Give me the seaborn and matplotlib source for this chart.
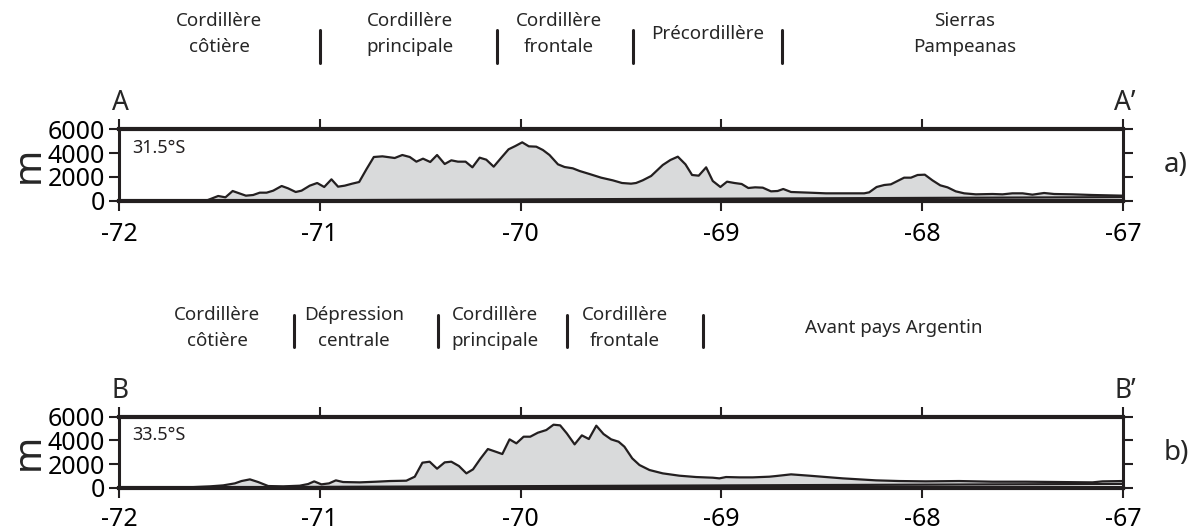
import numpy as np
import matplotlib.pyplot as plt
import matplotlib.transforms as mtransforms
import seaborn as sns

# Profile A-A' (31.5°S): longitude, elevation (m)
lon_a = [-72.0, -71.57, -71.506, -71.47, -71.434, -71.368, -71.332, -71.299, -71.265, -71.232,
         -71.19, -71.158, -71.12, -71.091, -71.05, -71.013, -70.978, -70.942, -70.909, -70.876,
         -70.839, -70.804, -70.768, -70.731, -70.688, -70.627, -70.589, -70.552, -70.519, -70.486,
         -70.45, -70.416, -70.378, -70.345, -70.312, -70.274, -70.24, -70.204, -70.171, -70.134,
         -70.096, -70.06, -70.026, -69.992, -69.959, -69.922, -69.889, -69.856, -69.814, -69.781,
         -69.74, -69.706, -69.657, -69.599, -69.541, -69.495, -69.45, -69.425, -69.392, -69.35,
         -69.292, -69.254, -69.217, -69.179, -69.146, -69.113, -69.076, -69.043, -69.005, -68.972,
         -68.935, -68.899, -68.866, -68.832, -68.794, -68.753, -68.72, -68.692, -68.653, -68.562,
         -68.479, -68.289, -68.264, -68.227, -68.189, -68.156, -68.123, -68.09, -68.056, -68.023,
         -67.987, -67.949, -67.91, -67.874, -67.833, -67.791, -67.733, -67.65, -67.6, -67.551,
         -67.5, -67.451, -67.393, -67.343, -67.252, -67.152, -67.0]
elev_a = [0, 0, 417, 305, 833, 444, 500, 694, 694, 861,
          1250, 1055, 750, 861, 1278, 1500, 1167, 1806, 1194, 1278,
          1444, 1583, 2639, 3667, 3722, 3583, 3833, 3667, 3278, 3528,
          3250, 3833, 3083, 3389, 3278, 3278, 2806, 3611, 3444, 2861,
          3611, 4306, 4583, 4889, 4556, 4528, 4250, 3833, 3056, 2833,
          2722, 2500, 2250, 1944, 1722, 1500, 1444, 1500, 1722, 2083,
          3000, 3417, 3694, 3056, 2167, 2111, 2806, 1667, 1167, 1611,
          1500, 1417, 1083, 1139, 1111, 805, 833, 1000, 750, 694,
          639, 639, 722, 1167, 1333, 1389, 1667, 1944, 1944, 2167,
          2194, 1722, 1305, 1139, 805, 639, 555, 583, 555, 639,
          639, 528, 667, 583, 555, 500, 444]

# Profile B-B' (33.5°S)
lon_b = [-72.0, -71.63, -71.547, -71.481, -71.423, -71.39, -71.348, -71.307, -71.257, -71.183,
         -71.1, -71.058, -71.028, -70.992, -70.954, -70.92, -70.884, -70.801, -70.718, -70.652,
         -70.569, -70.527, -70.489, -70.453, -70.416, -70.378, -70.345, -70.307, -70.27, -70.237,
         -70.2, -70.163, -70.124, -70.091, -70.055, -70.021, -69.985, -69.952, -69.914, -69.872,
         -69.836, -69.803, -69.77, -69.731, -69.695, -69.66, -69.623, -69.587, -69.549, -69.512,
         -69.483, -69.444, -69.408, -69.358, -69.292, -69.209, -69.126, -69.043, -69.01, -68.977,
         -68.91, -68.844, -68.761, -68.728, -68.653, -68.562, -68.396, -68.23, -68.114, -67.982,
         -67.816, -67.65, -67.484, -67.318, -67.152, -67.102, -67.0]
elev_b = [0, 50, 113, 197, 366, 563, 704, 479, 141, 113,
          169, 310, 535, 282, 366, 620, 479, 451, 507, 563,
          592, 930, 2113, 2197, 1606, 2141, 2197, 1831, 1211, 1549,
          2451, 3268, 3042, 2845, 4085, 3747, 4310, 4310, 4648, 4873,
          5324, 5268, 4592, 3662, 4423, 4113, 5240, 4535, 4085, 3887,
          3465, 2479, 1916, 1493, 1211, 1014, 901, 845, 789, 901,
          873, 873, 930, 986, 1127, 1014, 789, 620, 563, 535,
          563, 507, 507, 479, 451, 535, 563]

# lower reference line under each profile
base_lon = [-72.0, -67.0]
base_elev = [0, 320]

x_ticks = [-72, -71, -70, -69, -68, -67]
y_ticks = [0, 2000, 4000, 6000]

# section names and separator positions (longitude)
units_a = ["Cordillère\ncôtière", "Cordillère\nprincipale", "Cordillère\nfrontale",
           "Précordillère", "Sierras\nPampeanas"]
units_a_x = [-71.5, -70.55, -69.81, -69.07, -67.79]
seps_a = [-71.0, -70.12, -69.44, -68.70]

units_b = ["Cordillère\ncôtière", "Dépression\ncentrale", "Cordillère\nprincipale",
           "Cordillère\nfrontale", "Avant pays Argentin"]
units_b_x = [-71.51, -70.83, -70.13, -69.48, -68.14]
seps_b = [-71.13, -70.41, -69.77, -69.09]

sns.set_style("ticks")
plt.rcParams['font.family'] = ['Noto Sans', 'DejaVu Sans']
ink = "#231f20"
fill = "#d9dadb"

fig = plt.figure(figsize=(11.96, 5.32), dpi=100)
W, H = 1196, 532


def draw_panel(rect, lon, elev, lat_label, left, right, tag, units, units_x, seps,
               label_y, sep_y, xpad):
    ax = fig.add_axes(rect)
    base = np.interp(lon, base_lon, base_elev)
    ax.fill_between(lon, base, elev, color=fill, lw=0, zorder=1)
    sns.lineplot(x=lon, y=elev, ax=ax, color=ink, lw=1.6, zorder=3, estimator=None, sort=False)
    sns.lineplot(x=base_lon, y=base_elev, ax=ax, color=ink, lw=1.6, zorder=3)
    ax.set_xlim(-72, -67)
    ax.set_ylim(0, 6000)
    ax.set_xticks(x_ticks)
    ax.set_xticklabels([str(t) for t in x_ticks])
    ax.set_yticks(y_ticks)
    ax.set_yticklabels([str(t) for t in y_ticks])
    ax.tick_params(axis="both", direction="out", length=7, width=1.5, color=ink,
                   labelsize=18, labelcolor="black",
                   top=True, right=True, labeltop=False, labelright=False)
    ax.tick_params(axis="x", pad=xpad)
    ax.tick_params(axis="y", pad=3)
    for s in ["top", "bottom"]:
        ax.spines[s].set_linewidth(3)
        ax.spines[s].set_color(ink)
    for s in ["left", "right"]:
        ax.spines[s].set_linewidth(2.2)
        ax.spines[s].set_color(ink)
    ax.set_ylabel("m", fontsize=28, labelpad=0)
    ax.text(0.013, 0.74, lat_label, transform=ax.transAxes, fontsize=13,
            color=ink, va="center", ha="left")
    # A / A' labels and panel tag
    top_px = (1 - (rect[1] + rect[3])) * H
    fig.text(120 / W, 1 - (top_px - 26) / H, left, fontsize=19, ha="center", va="center")
    fig.text(1125 / W, 1 - (top_px - 26) / H, right, fontsize=19, ha="center", va="center")
    fig.text(1176 / W, 1 - (top_px + 36) / H, tag, fontsize=20, ha="center", va="center")
    # section names above the profile
    trans = mtransforms.blended_transform_factory(ax.transData, fig.transFigure)
    for name, x in zip(units, units_x):
        ax.text(x, 1 - label_y / H, name, transform=trans, fontsize=13.5, ha="center",
                va="center", linespacing=1.55, clip_on=False)
    for x in seps:
        ax.plot([x, x], [1 - sep_y[0] / H, 1 - sep_y[1] / H], transform=trans,
                color=ink, lw=2.2, clip_on=False)
    return ax


draw_panel([119 / W, 1 - 201 / H, 1004 / W, 72 / H], lon_a, elev_a, "31.5°S",
           "A", "A\u2019", "a)", units_a, units_a_x, seps_a, 34, (30, 63), 8)
draw_panel([119 / W, 1 - 487.7 / H, 1004 / W, 71 / H], lon_b, elev_b, "33.5°S",
           "B", "B\u2019", "b)", units_b, units_b_x, seps_b, 328, (315, 347), 7)

fig.savefig("out.png", dpi=100)
